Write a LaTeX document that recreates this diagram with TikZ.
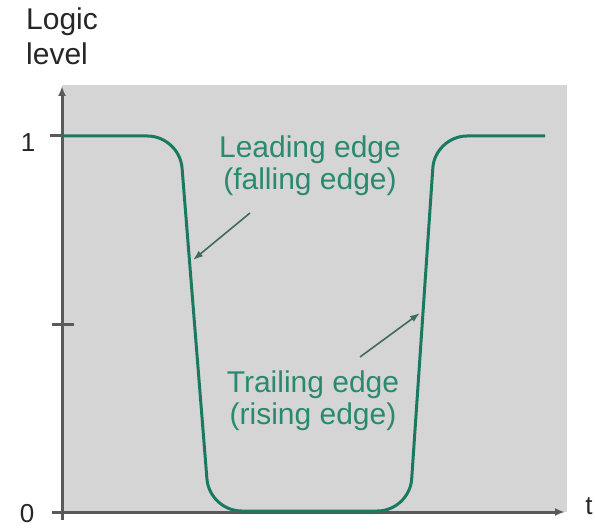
\documentclass[tikz,border=0pt]{standalone}
\usepackage{fontspec}
\setmainfont{Liberation Sans}
\usepackage{tikz}
\usetikzlibrary{arrows.meta, positioning}
\definecolor{pulsegreen}{HTML}{1A7A60}
\definecolor{labelgreen}{HTML}{2A8A70}
\definecolor{panelgrey}{HTML}{D5D5D5}
\definecolor{axisgrey}{HTML}{5A5A5A}
\definecolor{pointergrey}{HTML}{3E6A60}
\tikzset{
  axisline/.style={axisgrey, line width=3pt, -{Latex[length=10pt,width=8pt]}},
  tickmark/.style={axisgrey, line width=3pt},
  ticklabel/.style={font=\fontsize{26}{28}\selectfont, text=black!85, inner sep=0pt},
  edgelabel/.style={font=\fontsize{30}{32}\selectfont, text=labelgreen, align=center, inner sep=0pt},
  pointer/.style={pointergrey, line width=1.6pt, -{Latex[length=10pt,width=7pt]}},
}
\begin{document}
\begin{tikzpicture}[x=1pt, y=-1pt]
  \useasboundingbox (0,0) rectangle (595,529);
  \fill[panelgrey] (62,85) rectangle (567,512);
  % axes
  \coordinate (ybottom) at (62,520);
  \coordinate (ytop) at (62,86);
  \coordinate (xleft) at (52,512);
  \coordinate (xright) at (565,512);
  \draw[axisline] (ybottom) -- (ytop);
  \draw[axisline] (xleft) -- (xright);
  \draw[tickmark] (50,136) -- (62,136);
  \draw[tickmark] (52,325) -- (74,325);
  \node[ticklabel] (one) at (28,143) {1};
  \node[ticklabel] (zero) at (27,514) {0};
  \node[ticklabel] (tlabel) at (589,506) {t};
  \node[font=\fontsize{30}{35}\selectfont, text=black!85, align=left, anchor=north west, inner sep=0pt] (ylabel) at (26,8) {Logic\\level};
  % the pulse
  \draw[pulsegreen, line width=3pt, rounded corners=32pt, line join=round]
    (62,136) -- (179.5,136) -- (209.5,511) -- (409.5,511) -- (435,136) -- (545,136);
  % edge labels
  \node[edgelabel] (lead) at (310,166) {Leading edge\\(falling edge)};
  \node[edgelabel] (trail) at (313,401) {Trailing edge\\(rising edge)};
  \coordinate (leadtail) at (250,213);
  \coordinate (leadhead) at (193,260);
  \coordinate (trailtail) at (360,357);
  \coordinate (trailhead) at (420,313);
  \draw[pointer] (leadtail) -- (leadhead);
  \draw[pointer] (trailtail) -- (trailhead);
\end{tikzpicture}
\end{document}
